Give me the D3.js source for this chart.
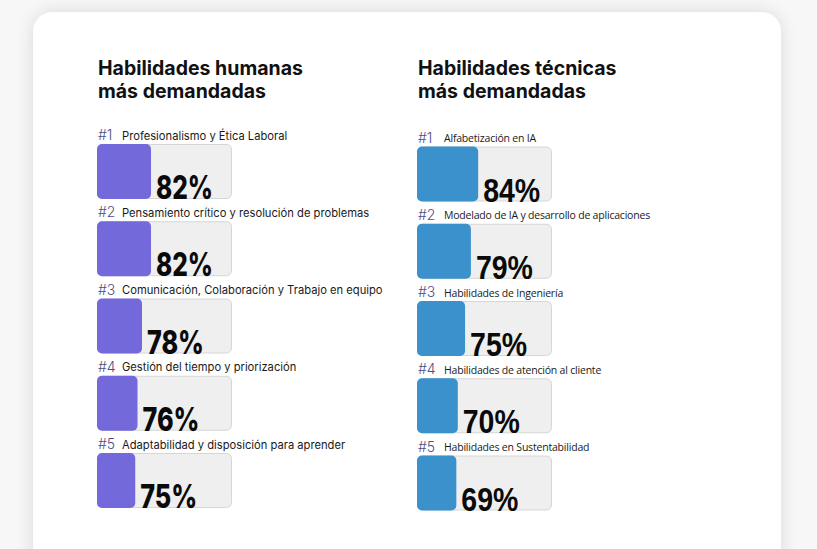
<!DOCTYPE html>
<html>
<head>
<meta charset="utf-8">
<script src="https://cdn.jsdelivr.net/npm/d3@7"></script>
<style>
  html, body { margin: 0; padding: 0; background: #f7f7f7; }
  svg { display: block; }
</style>
</head>
<body>
<div id="chart"></div>
<script>
// data
var humanTitle = ["Habilidades humanas", "más demandadas"];
var humanRanks = ["#1", "#2", "#3", "#4", "#5"];
var humanSkills = ["Profesionalismo y Ética Laboral", "Pensamiento crítico y resolución de problemas",
  "Comunicación, Colaboración y Trabajo en equipo", "Gestión del tiempo y priorización",
  "Adaptabilidad y disposición para aprender"];
var humanValues = [82, 82, 78, 76, 75];

var techTitle = ["Habilidades técnicas", "más demandadas"];
var techRanks = ["#1", "#2", "#3", "#4", "#5"];
var techSkills = ["Alfabetización en IA", "Modelado de IA y desarrollo de aplicaciones",
  "Habilidades de Ingeniería", "Habilidades de atención al cliente", "Habilidades en Sustentabilidad"];
var techValues = [84, 79, 75, 70, 69];

var width = 817, height = 549;
var boxW = 134, boxH = 54, step = 77.25;

var svg = d3.select("#chart").append("svg")
  .attr("width", width)
  .attr("height", height);

var defs = svg.append("defs");
var shadow = defs.append("filter").attr("id", "shadow")
  .attr("x", "-10%").attr("y", "-10%").attr("width", "120%").attr("height", "130%");
shadow.append("feGaussianBlur").attr("in", "SourceAlpha").attr("stdDeviation", 9);
shadow.append("feComponentTransfer").append("feFuncA").attr("type", "linear").attr("slope", 0.12);
var merge = shadow.append("feMerge");
merge.append("feMergeNode");
merge.append("feMergeNode").attr("in", "SourceGraphic");

// card
svg.append("rect")
  .attr("x", 33).attr("y", 12)
  .attr("width", 748).attr("height", 600)
  .attr("rx", 20)
  .attr("fill", "#ffffff")
  .attr("filter", "url(#shadow)");

var panels = [
  {title: humanTitle, ranks: humanRanks, skills: humanSkills, values: humanValues,
   x: 97, titleY: 75, top: 144, color: "#7369db",
   labelFont: "Inter, 'Noto Sans', sans-serif", labelSize: 11.2, labelSpacing: 0, labelDx: 25,
   pctFont: "Inter, 'Noto Sans', sans-serif", pctWeight: 800,
   scale: d3.scaleLinear().domain([58, 100]).range([0, 94.5])},
  {title: techTitle, ranks: techRanks, skills: techSkills, values: techValues,
   x: 417, titleY: 75, top: 146.5, color: "#3a91cc",
   labelFont: "'Open Sans', 'Noto Sans', sans-serif", labelSize: 10.5, labelSpacing: -0.2, labelDx: 27,
   pctFont: "'Liberation Sans', Arial, sans-serif", pctWeight: 700,
   scale: d3.scaleLinear().domain([42, 100]).range([0, 84.5])}
];

panels.forEach(function(p) {
  var g = svg.append("g").attr("transform", "translate(" + p.x + ",0)");

  g.selectAll("text.title")
    .data(p.title)
    .enter().append("text")
      .attr("class", "title")
      .attr("x", 1)
      .attr("y", function(d, i) { return p.titleY + i * 22.5; })
      .attr("font-family", "Inter, 'Noto Sans', sans-serif")
      .attr("font-weight", 700)
      .attr("font-size", 19.5)
      .attr("fill", "#111")
      .text(function(d) { return d; });

  var rows = g.selectAll("g.row")
    .data(p.values)
    .enter().append("g")
    .attr("class", "row")
    .attr("transform", function(d, i) { return "translate(0," + (p.top + i * step) + ")"; });

  rows.append("text")
    .attr("x", 1).attr("y", -4)
    .attr("font-family", "Inter, 'Noto Sans', sans-serif")
    .attr("font-weight", 300)
    .attr("font-size", 14)
    .attr("fill", "#4d4d85")
    .text(function(d, i) { return p.ranks[i]; });

  rows.append("text")
    .attr("x", p.labelDx).attr("y", -4.5)
    .attr("font-family", p.labelFont)
    .attr("font-size", p.labelSize)
    .attr("letter-spacing", p.labelSpacing)
    .attr("fill", "#1a1a1a")
    .text(function(d, i) { return p.skills[i]; });

  rows.append("rect")
    .attr("x", 0.5).attr("y", 0.5)
    .attr("width", boxW).attr("height", boxH)
    .attr("rx", 5)
    .attr("fill", "#efefef")
    .attr("stroke", "#d6d6d6")
    .attr("stroke-width", 1);

  rows.append("rect")
    .attr("x", 0).attr("y", 0)
    .attr("width", function(d) { return p.scale(d); })
    .attr("height", boxH + 1)
    .attr("rx", 5)
    .attr("fill", p.color);

  rows.append("text")
    .attr("x", function(d) { return p.scale(d) + 5; })
    .attr("y", boxH + 1)
    .attr("font-family", p.pctFont)
    .attr("font-weight", p.pctWeight)
    .attr("font-size", 33)
    .attr("fill", "#0a0a0a")
    .attr("textLength", 57)
    .attr("lengthAdjust", "spacingAndGlyphs")
    .text(function(d) { return d + "%"; });
});
</script>
</body>
</html>
